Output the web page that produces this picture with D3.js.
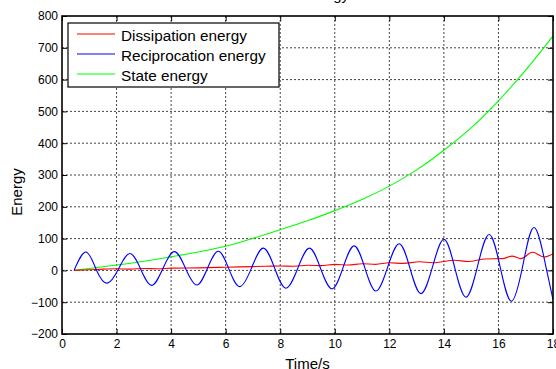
<!DOCTYPE html>
<html>
<head>
<meta charset="utf-8">
<script src="https://cdn.jsdelivr.net/npm/d3@7"></script>
<style>
  body { margin: 0; background: #fff; }
  svg { display: block; font-family: "Liberation Sans", Arial, sans-serif; }
</style>
</head>
<body>
<svg id="chart" width="556" height="369"></svg>
<script>
// tick values
const xTickVals = [0, 2, 4, 6, 8, 10, 12, 14, 16, 18];
const yTickVals = [-200, -100, 0, 100, 200, 300, 400, 500, 600, 700, 800];

// series (time in s, energy)
const dissT = [0.44, 1.0, 1.5, 2.0, 2.5, 3.0, 3.5, 4.0, 5.0, 6.0, 7.0, 7.5, 8.0, 8.5, 9.0, 9.5, 10.0, 10.5, 11.0, 11.5, 12.0, 12.5, 13.1, 13.6, 14.4, 14.9, 15.5, 16.15, 16.5, 16.82, 17.25, 17.68, 18.0];
const dissE = [0, 2, 4, 5, 4, 6, 5, 7, 8, 10, 12, 13, 14, 13, 16, 15, 19, 17, 21, 19, 24, 22, 27, 24, 32, 28, 36, 37, 45, 37, 57, 42, 52];

const recT = [0.44, 0.88, 1.27, 1.67, 2.08, 2.49, 2.89, 3.29, 3.7, 4.12, 4.53, 4.94, 5.33, 5.73, 6.12, 6.52, 6.95, 7.38, 7.8, 8.21, 8.64, 9.07, 9.48, 9.9, 10.3, 10.71, 11.11, 11.51, 11.93, 12.36, 12.76, 13.16, 13.58, 14.0, 14.4, 14.81, 15.23, 15.66, 16.07, 16.48, 16.9, 17.31, 17.72, 18.0];
const recE = [0, 58, 0, -40, 6, 53, 3, -47, 6, 59, 6, -46, 6, 60, 4, -51, 8, 70, 6, -56, 6, 70, 6, -58, 8, 77, 6, -65, 8, 84, 6, -73, 10, 98, 8, -84, 12, 113, 8, -97, 18, 135, 20, -92];

const stateT = [0.44, 1, 2, 3, 4, 5, 6, 7, 8, 9, 10, 11, 12, 13, 14, 15, 16, 17, 18];
const stateE = [0, 6, 17, 29, 43, 58, 76, 101, 128, 156, 188, 223, 265, 316, 378, 448, 533, 630, 737];

const seriesNames = ["Dissipation energy", "Reciprocation energy", "State energy"];
const seriesColors = ["#ff0000", "#0000ff", "#00ff00"];

const margin = { top: 16, right: 3, bottom: 35, left: 62 };
const W = 556, H = 369;
const width = W - margin.left - margin.right;
const height = H - margin.top - margin.bottom;

const svg = d3.select("#chart");
const g = svg.append("g").attr("transform", `translate(${margin.left},${margin.top})`);

const x = d3.scaleLinear().domain([0, 18]).range([0, width]);
const y = d3.scaleLinear().domain([-200, 800]).range([height, 0]);

// grid
g.append("g").selectAll("line").data(xTickVals.slice(1, -1)).enter().append("line")
    .attr("x1", d => x(d)).attr("x2", d => x(d))
    .attr("y1", 0).attr("y2", height)
    .attr("stroke", "#444").attr("stroke-dasharray", "2,2");
g.append("g").selectAll("line").data(yTickVals.slice(1, -1)).enter().append("line")
    .attr("x1", 0).attr("x2", width)
    .attr("y1", d => y(d)).attr("y2", d => y(d))
    .attr("stroke", "#444").attr("stroke-dasharray", "2,2");

// lines
g.append("clipPath").attr("id", "clip").append("rect")
    .attr("width", width).attr("height", height);

function drawLine(ts, vs, color, curve) {
    const pts = ts.map((t, i) => [t, vs[i]]);
    g.append("path")
        .datum(pts)
        .attr("clip-path", "url(#clip)")
        .attr("fill", "none")
        .attr("stroke", color)
        .attr("stroke-width", 1.1)
        .attr("d", d3.line().x(d => x(d[0])).y(d => y(d[1])).curve(curve));
}
drawLine(stateT, stateE, seriesColors[2], d3.curveMonotoneX);
drawLine(dissT, dissE, seriesColors[0], d3.curveMonotoneX);
drawLine(recT, recE, seriesColors[1], d3.curveNatural);

// axes, ticks pointing inward
function styleAxis(sel) {
    sel.select(".domain").remove();
    sel.selectAll(".tick line").attr("stroke", "#000");
    sel.selectAll("text").attr("fill", "#000").style("font-size", "12px")
        .style("font-family", "'Liberation Sans', Arial, sans-serif");
}
g.append("g").attr("transform", `translate(0,${height})`)
    .call(d3.axisBottom(x).tickValues(xTickVals).tickSize(-5).tickSizeOuter(0).tickPadding(5))
    .call(styleAxis);
g.append("g")
    .call(d3.axisLeft(y).tickValues(yTickVals).tickSize(-5).tickSizeOuter(0).tickPadding(4))
    .call(styleAxis);
g.append("g")
    .call(d3.axisTop(x).tickValues(xTickVals).tickSize(-5).tickSizeOuter(0).tickFormat(""))
    .call(styleAxis);
g.append("g").attr("transform", `translate(${width},0)`)
    .call(d3.axisRight(y).tickValues(yTickVals).tickSize(-5).tickSizeOuter(0).tickFormat(""))
    .call(styleAxis);

// frame
g.append("rect")
    .attr("width", width).attr("height", height)
    .attr("fill", "none").attr("stroke", "#000").attr("stroke-width", 1.6);

// labels
svg.append("text")
    .attr("x", margin.left + width / 2).attr("y", 369)
    .attr("text-anchor", "middle")
    .style("font-size", "15px")
    .text("Time/s");
svg.append("text")
    .attr("transform", `translate(22,${margin.top + y(300) + 17}) rotate(-90)`)
    .attr("text-anchor", "middle")
    .style("font-size", "15px")
    .text("Energy");
// title, mostly above the window
svg.append("text")
    .attr("x", 349).attr("y", -0.5)
    .attr("text-anchor", "end")
    .style("font-size", "15px")
    .text("Energy");

// legend
const legend = svg.append("g").attr("transform", "translate(68,23)");
legend.append("rect")
    .attr("width", 211).attr("height", 64)
    .attr("fill", "#fff").attr("stroke", "#000").attr("stroke-width", 1.2);
seriesNames.forEach((name, i) => {
    const row = legend.append("g").attr("transform", `translate(0,${11 + i * 20})`);
    row.append("line")
        .attr("x1", 9).attr("x2", 47).attr("y1", 0).attr("y2", 0)
        .attr("stroke", seriesColors[i]).attr("stroke-width", 1.1);
    row.append("text")
        .attr("x", 53).attr("y", 6.5)
        .style("font-size", "15.3px")
        .text(name);
});
</script>
</body>
</html>
